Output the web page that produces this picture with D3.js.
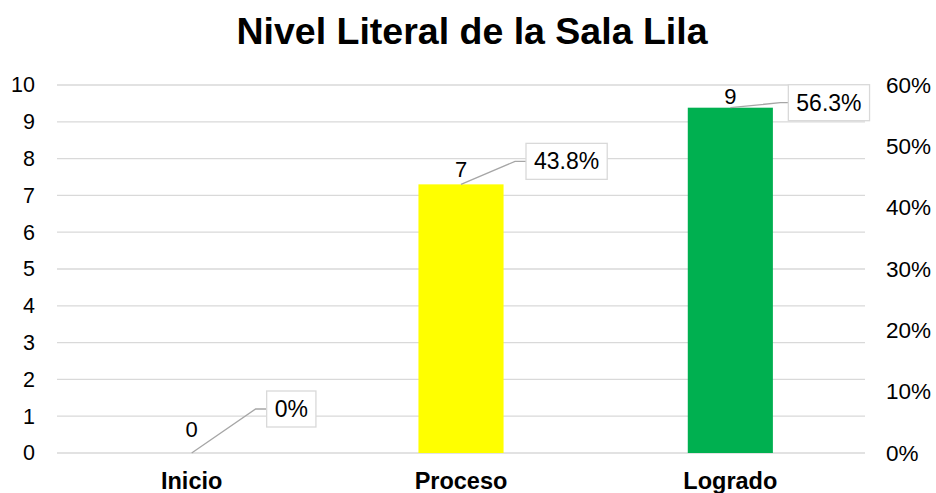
<!DOCTYPE html>
<html>
<head>
<meta charset="utf-8">
<script src="https://cdn.jsdelivr.net/npm/d3@7"></script>
<style>
  body { margin: 0; background: #fff; }
  text { font-family: "Liberation Sans", Arial, sans-serif; }
</style>
</head>
<body>
<script>
// chart data
var categories = ["Inicio", "Proceso", "Logrado"];
var counts = [0, 7, 9];
var percents = [0, 0.438, 0.563];
var barColors = ["#4472c4", "#ffff00", "#00b050"];
var leftTicks = [0, 1, 2, 3, 4, 5, 6, 7, 8, 9, 10];
var rightTicks = [0, 0.1, 0.2, 0.3, 0.4, 0.5, 0.6];

var svgWidth = 936;
var svgHeight = 493;
var plotLeft = 57, plotRight = 865, plotTop = 85, plotBottom = 453;

var svg = d3.select("body")
    .append("svg")
    .attr("width", svgWidth)
    .attr("height", svgHeight);

// title
svg.append("text")
    .attr("x", 472)
    .attr("y", 44)
    .attr("text-anchor", "middle")
    .style("font-size", "37.5px")
    .style("font-weight", "bold")
    .text("Nivel Literal de la Sala Lila");

// scales
var xScale = d3.scaleBand()
    .domain(categories)
    .range([plotLeft, plotRight])
    .paddingInner(0.684)
    .paddingOuter(0.342);

var yScale = d3.scaleLinear()
    .domain([0, 10])
    .range([plotBottom, plotTop]);

var yPct = d3.scaleLinear()
    .domain([0, 0.6])
    .range([plotBottom, plotTop]);

// gridlines
svg.append("g")
    .attr("class", "grid")
    .selectAll("line")
    .data(leftTicks)
    .enter()
    .append("line")
    .attr("x1", plotLeft)
    .attr("x2", plotRight)
    .attr("y1", d => yScale(d))
    .attr("y2", d => yScale(d))
    .attr("stroke", "#d9d9d9")
    .attr("stroke-width", 1.3);

// left axis
var yAxis = d3.axisLeft(yScale).tickValues(leftTicks).tickSize(0).tickPadding(0);
var gl = svg.append("g")
    .attr("class", "y-axis")
    .attr("transform", "translate(35,0)")
    .call(yAxis);
gl.select(".domain").remove();
gl.selectAll("text")
    .style("font-size", "21.5px")
    .style("font-family", "Liberation Sans, Arial, sans-serif")
    .attr("fill", "#000");

// right axis
var yAxisR = d3.axisRight(yPct).tickValues(rightTicks).tickSize(0).tickPadding(0)
    .tickFormat(d3.format(".0%"));
var gr = svg.append("g")
    .attr("class", "y-axis-right")
    .attr("transform", "translate(886,0)")
    .call(yAxisR);
gr.select(".domain").remove();
gr.selectAll("text")
    .style("font-size", "22.5px")
    .style("font-family", "Liberation Sans, Arial, sans-serif")
    .attr("fill", "#000");

// category labels
var xAxis = d3.axisBottom(xScale).tickSize(0).tickPadding(0);
var gx = svg.append("g")
    .attr("class", "x-axis")
    .attr("transform", "translate(0," + plotBottom + ")")
    .call(xAxis);
gx.select(".domain").remove();
gx.selectAll("text")
    .attr("dy", 0)
    .attr("y", 36)
    .style("font-size", "23.5px")
    .style("font-weight", "bold")
    .style("font-family", "Liberation Sans, Arial, sans-serif")
    .attr("fill", "#000");

// bars (plotted on percentage axis)
svg.selectAll("rect.bar")
    .data(categories)
    .enter()
    .append("rect")
    .attr("class", "bar")
    .attr("x", d => xScale(d))
    .attr("width", xScale.bandwidth())
    .attr("y", (d, i) => yPct(percents[i]))
    .attr("height", (d, i) => plotBottom - yPct(percents[i]))
    .attr("fill", (d, i) => barColors[i]);

// count labels (offset above bar top)
var countGap = [16, 7, 4];
svg.append("g")
    .attr("class", "labels")
    .selectAll("text")
    .data(categories)
    .enter()
    .append("text")
    .attr("x", d => xScale(d) + xScale.bandwidth() / 2)
    .attr("y", (d, i) => yPct(percents[i]) - countGap[i])
    .attr("text-anchor", "middle")
    .style("font-size", "22px")
    .text((d, i) => counts[i]);

// percentage callouts with leader lines
var boxDx = [75, 65, 58];
var boxDy = [-44, -23, -5];
var kneeGap = [11, 11, 8];
var fmt = d3.format(".1%");

categories.forEach(function(c, i) {
    var cx = xScale(c) + xScale.bandwidth() / 2;
    var top = yPct(percents[i]);
    var bx = cx + boxDx[i];
    var by = top + boxDy[i];
    var g = svg.append("g").attr("class", "callout");

    g.append("polyline")
        .attr("points", [[cx, top], [bx - kneeGap[i], by], [bx, by]].map(p => p.join(",")).join(" "))
        .attr("fill", "none")
        .attr("stroke", "#a6a6a6")
        .attr("stroke-width", 1.3);

    var label = percents[i] === 0 ? "0%" : fmt(percents[i]);
    var rect = g.append("rect")
        .attr("fill", "#fff")
        .attr("stroke", "#d9d9d9")
        .attr("stroke-width", 1.3);
    var t = g.append("text")
        .attr("x", bx + 8)
        .attr("y", by + 8)
        .style("font-size", "23px")
        .text(label);
    var w = t.node().getComputedTextLength();
    rect.attr("x", bx)
        .attr("y", by - 18)
        .attr("width", w + 16)
        .attr("height", 36);
});
</script>
</body>
</html>
